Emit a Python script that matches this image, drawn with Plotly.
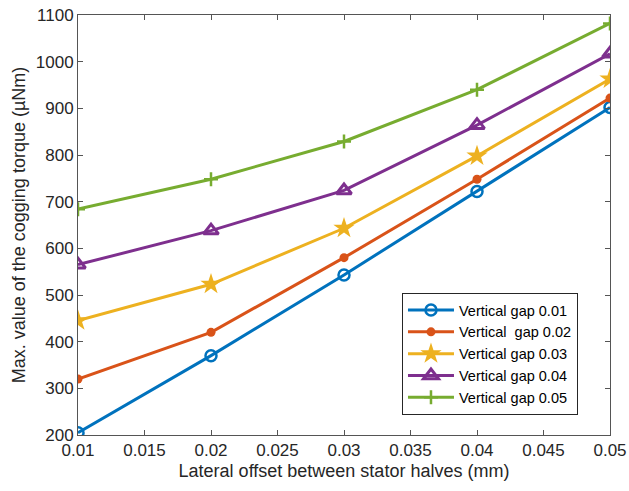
import plotly.graph_objects as go

x_vals = [0.01, 0.02, 0.03, 0.04, 0.05]
names = ["Vertical gap 0.01", "Vertical\u00a0 gap 0.02", "Vertical gap 0.03", "Vertical gap 0.04", "Vertical gap 0.05"]
gap001 = [205, 370, 543, 722, 902]
gap002 = [320, 420, 580, 748, 922]
gap003 = [445, 523, 643, 798, 963]
gap004 = [565, 638, 724, 864, 1017]
gap005 = [684, 748, 829, 940, 1082]
series = [gap001, gap002, gap003, gap004, gap005]
colors = ["#0072BD", "#D95319", "#EDB120", "#7E2F8E", "#77AC30"]
markers = [
    dict(symbol="circle-open", size=11, line=dict(width=2.5)),
    dict(symbol="circle", size=9),
    dict(symbol="star", size=16, line=dict(width=0)),
    dict(symbol="triangle-up-open", size=13, line=dict(width=3)),
    dict(symbol="cross-thin-open", size=10, line=dict(width=2.5)),
]

fig = go.Figure()
for name, ys, c, m in zip(names, series, colors, markers):
    mk = dict(m)
    mk["color"] = c
    if "line" in mk:
        mk["line"] = dict(mk["line"], color=c)
    fig.add_trace(go.Scatter(x=x_vals, y=ys, name=name, mode="lines+markers",
                             line=dict(color=c, width=3), marker=mk))

axis_common = dict(showgrid=False, zeroline=False, showline=True, linecolor="#555555",
                   linewidth=1, mirror="ticks", ticks="inside", ticklen=5,
                   tickcolor="#555555", tickfont=dict(size=17, color="#262626"),
                   automargin=False)
fig.update_layout(
    width=629, height=491,
    margin=dict(l=78, r=19, t=15, b=56),
    plot_bgcolor="white", paper_bgcolor="white",
    font=dict(family="Liberation Sans, Arial, sans-serif", color="#262626"),
    xaxis=dict(range=[0.01, 0.05], dtick=0.005, tickformat="~g",
               title=dict(text="Lateral offset between stator halves (mm)", font=dict(size=18), standoff=4),
               **axis_common),
    yaxis=dict(range=[200, 1100], dtick=100,
               title=dict(text="Max. value of the cogging torque (µNm)", font=dict(size=18), standoff=5),
               **axis_common),
    legend=dict(x=0.609, y=0.338, xanchor="left", yanchor="top",
                bgcolor="white", bordercolor="#262626", borderwidth=1,
                font=dict(size=14.5, color="#000000"), tracegroupgap=0, itemwidth=46),
    showlegend=True,
)
fig.write_html("out.html")
